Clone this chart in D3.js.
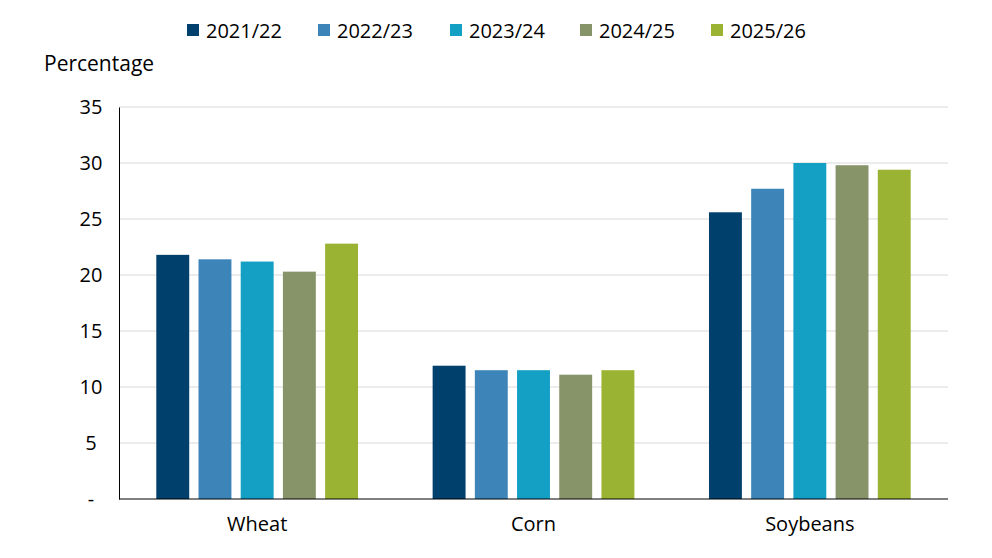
<!DOCTYPE html>
<html><head><meta charset="utf-8">
<script src="https://cdn.jsdelivr.net/npm/d3@7"></script>
<style>body{margin:0;background:#fff}text{font-family:"Open Sans",sans-serif;fill:#000}</style>
</head><body><svg></svg>
<script>
var width = 992, height = 558;
var margin = {top: 107, right: 44, bottom: 59, left: 119};

var crops = ["Wheat", "Corn", "Soybeans"];
var years = ["2021/22", "2022/23", "2023/24", "2024/25", "2025/26"];
var colors = ["#00406c", "#3d85b8", "#14a0c4", "#879469", "#9ab332"];
var values = [
  [21.8, 21.4, 21.2, 20.3, 22.8],
  [11.9, 11.5, 11.5, 11.1, 11.5],
  [25.6, 27.7, 30.0, 29.8, 29.4]
];
var yTicks = [0, 5, 10, 15, 20, 25, 30, 35];

var svg = d3.select("svg").attr("width", width).attr("height", height);

var x0 = d3.scaleBand().domain(crops)
  .range([margin.left, width - margin.right])
  .paddingInner(0.27).paddingOuter(0.135);
var x1 = d3.scaleBand().domain(years)
  .range([0, x0.bandwidth()]).paddingInner(0.22);
var y = d3.scaleLinear().domain([0, 35])
  .range([height - margin.bottom, margin.top]);
var color = d3.scaleOrdinal().domain(years).range(colors);

// grid
svg.append("g").selectAll("line").data(yTicks.slice(1)).enter().append("line")
  .attr("x1", margin.left).attr("x2", width - margin.right)
  .attr("y1", d => y(d)).attr("y2", d => y(d))
  .attr("stroke", "#d9d9d9").attr("stroke-width", 1);

var yAxis = d3.axisLeft(y).tickValues(yTicks)
  .tickFormat(d => d === 0 ? "-" : d).tickSize(0).tickPadding(22);
svg.append("g").attr("transform", "translate(" + margin.left + ",0)")
  .call(yAxis)
  .call(g => g.select(".domain").attr("stroke", "#000"))
  .selectAll("text").style("font-size", "20px").attr("text-anchor", "middle").attr("dx", "-0.3em");

svg.append("g").selectAll("g").data(crops).enter().append("g")
  .attr("transform", d => "translate(" + x0(d) + ",0)")
  .selectAll("rect").data((d, i) => values[i].map((v, j) => ({year: years[j], v: v})))
  .enter().append("rect")
  .attr("x", d => x1(d.year)).attr("width", x1.bandwidth())
  .attr("y", d => y(d.v)).attr("height", d => y(0) - y(d.v))
  .attr("fill", d => color(d.year));

var xAxis = d3.axisBottom(x0).tickSize(0).tickPadding(18);
svg.append("g").attr("transform", "translate(0," + y(0) + ")")
  .call(xAxis)
  .call(g => g.select(".domain").attr("stroke", "#000").attr("d", "M" + margin.left + ",0H" + (width - margin.right)))
  .selectAll("text").style("font-size", "20px");

svg.append("text").attr("x", 44).attr("y", 71).style("font-size", "21px").text("Percentage");

// legend
var lx = [187, 318, 450, 580, 711];
var leg = svg.append("g").selectAll("g").data(years).enter().append("g")
  .attr("transform", (d, i) => "translate(" + lx[i] + ",30)");
leg.append("rect").attr("x", 0).attr("y", -6).attr("width", 12).attr("height", 12)
  .attr("fill", d => color(d));
leg.append("text").attr("x", 19).attr("y", 8).style("font-size", "20px").text(d => d);
</script></body></html>
